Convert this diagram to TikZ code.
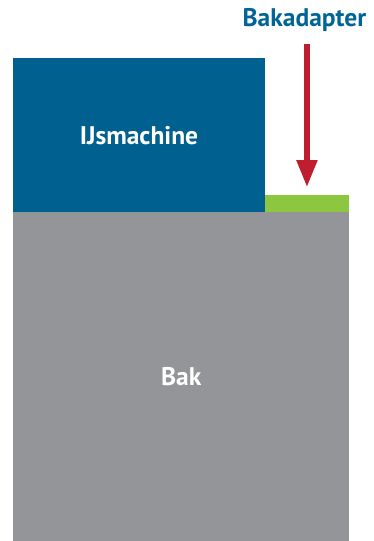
\documentclass[tikz,border=0pt]{standalone}
\usepackage{fontspec}
\setmainfont{PT Sans}
\usetikzlibrary{arrows.meta}
\definecolor{machineblue}{RGB}{0,96,143}
\definecolor{labelblue}{RGB}{0,101,150}
\definecolor{bakgrey}{RGB}{147,149,152}
\definecolor{adaptergreen}{RGB}{141,198,63}
\definecolor{arrowred}{RGB}{190,30,45}
\begin{document}
\begin{tikzpicture}[x=1pt,y=-1pt,every node/.style={font=\bfseries\fontsize{25.5}{30}\selectfont},
  block/.style={inner sep=0pt,anchor=north west,text=white}]
% machine on top of the tub, adapter fills the gap on the right
\useasboundingbox (0,0) rectangle (374,541);
\node[block,fill=bakgrey,minimum width=336pt,minimum height=329pt] (bak) at (13,212) {Bak};
\node[block,fill=machineblue,minimum width=251.5pt,minimum height=154pt] (machine) at (13,58) {IJsmachine};
\node[block,fill=adaptergreen,minimum width=84.5pt,minimum height=17pt] (adapter) at (264.5,195) {};
\node[inner sep=0pt,text=labelblue] (adapterlabel) at (304.5,20) {Bakadapter};
\draw[arrowred,line width=5.3pt,-{Triangle[width=20pt,length=27pt]},shorten <=12pt,shorten >=8pt]
  (adapter.north |- adapterlabel.south) -- (adapter.north);
\end{tikzpicture}
\end{document}
